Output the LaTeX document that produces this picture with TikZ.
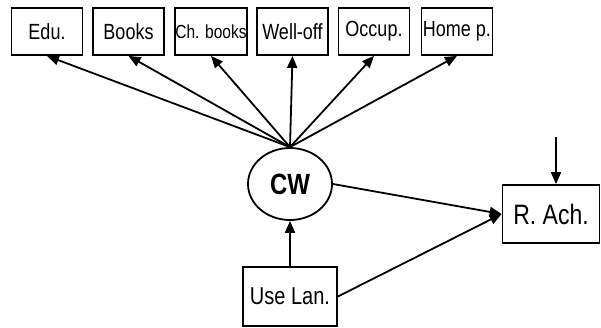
\documentclass[tikz,border=0pt]{standalone}
\usepackage{fontspec}
\setmainfont{Liberation Sans}
\usetikzlibrary{arrows.meta,shapes.geometric}
\newcommand{\tall}[1]{\scalebox{1}[1.22]{#1}}

\begin{document}
\begin{tikzpicture}[x=1pt,y=1pt,
    line width=1.8pt,
    indic/.style={draw,minimum width=71pt,minimum height=47pt,inner sep=0pt,font=\fontsize{18}{21}\selectfont},
    latent/.style={draw,ellipse,minimum width=84pt,minimum height=72pt,inner sep=0pt,font=\bfseries\fontsize{24}{28}\selectfont},
    path/.style={-{Triangle[length=12pt,width=10pt]}}]
  \useasboundingbox (0,0) rectangle (601,327);

  \node[indic] (edu)   at (47,295.5)  {\tall{Edu.}};
  \node[indic] (books) at (128.5,295.5) {\tall{Books}};
  \node[indic,font=\fontsize{15.5}{18}\selectfont] (chb) at (211,295.5) {\tall{Ch. books}};
  \node[indic] (well)  at (292.5,295.5) {\tall{Well-off}};
  \node[indic] (occ)   at (374,295.5) {\tall{Occup.}};
  \node[indic] (home)  at (457,295.5) {\tall{Home p.}};

  \node[latent] (cw) at (290,143) {\tall{CW}};
  \node[draw,minimum width=97pt,minimum height=58pt,font=\fontsize{23}{27}\selectfont] (ra) at (551,113) {\tall{R. Ach.}};
  \node[draw,minimum width=94pt,minimum height=59pt,font=\fontsize{20}{24}\selectfont] (ul) at (290,30.5) {\tall{Use Lan.}};
  \coordinate (err) at (556,190);

  \foreach \t in {edu,books,chb,well,occ,home}
    \draw[path] (cw.north) -- (\t.south);

  \draw[path] (ul.north) -- (cw.south);
  \draw[path] (cw.east) -- (ra.west);
  \draw[path] (ul.east) -- (ra.west);
  \draw[path] (err) -- (err |- ra.north);
\end{tikzpicture}
\end{document}
